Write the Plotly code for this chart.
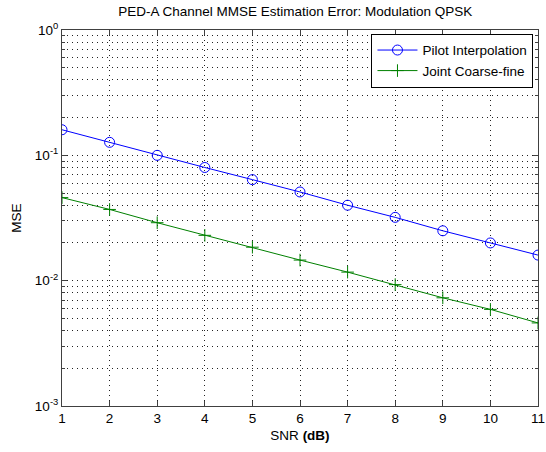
import plotly.graph_objects as go

# SNR points (dB)
snr_db = [1, 2, 3, 4, 5, 6, 7, 8, 9, 10, 11]

# Mean squared error of the channel estimate for each scheme
mse_pilot_interp = [0.160, 0.127, 0.100, 0.080, 0.064, 0.051, 0.040, 0.032, 0.025, 0.020, 0.016]
mse_joint_coarse_fine = [0.046, 0.037, 0.029, 0.023, 0.0185, 0.0146, 0.0117, 0.0093, 0.0073, 0.0059, 0.0046]

y_tick_vals = [1e-3, 1e-2, 1e-1, 1]
y_tick_text = ["10<sup>-3</sup>", "10<sup>-2</sup>", "10<sup>-1</sup>", "10<sup>0</sup>"]

font_family = "Liberation Sans, Arial, sans-serif"
text_size = 13.5

fig = go.Figure()

fig.add_trace(go.Scatter(
    x=snr_db, y=mse_pilot_interp, name="Pilot Interpolation",
    mode="lines+markers",
    line=dict(color="#0000ff", width=1),
    marker=dict(symbol="circle-open", size=10, color="#0000ff", line=dict(width=1)),
))

fig.add_trace(go.Scatter(
    x=snr_db, y=mse_joint_coarse_fine, name="Joint Coarse-fine",
    mode="lines+markers",
    line=dict(color="#008000", width=1),
    marker=dict(symbol="cross-thin-open", size=9, color="#008000", line=dict(width=1, color="#008000")),
))

grid_dash = "1px,4px"

axis_common = dict(
    showline=True, linecolor="#404040", linewidth=1, mirror="allticks",
    ticks="inside", ticklen=5, tickcolor="#404040",
    showgrid=True, gridcolor="#222222", griddash=grid_dash, gridwidth=1,
    zeroline=False, automargin=False, ticklabeloverflow="allow",
    tickfont=dict(family=font_family, size=text_size, color="#000000"),
)

fig.update_xaxes(
    **axis_common,
    range=[1, 11], tickvals=snr_db,
    title=dict(text="SNR <b>(dB)</b>", font=dict(family=font_family, size=text_size, color="#000000"), standoff=5),
)

fig.update_yaxes(
    **axis_common,
    type="log", range=[-3, 0],
    tickvals=y_tick_vals, ticktext=y_tick_text,
    minor=dict(dtick="D1", ticks="inside", ticklen=3, tickcolor="#404040",
               showgrid=True, gridcolor="#222222", griddash=grid_dash, gridwidth=1),
    title=dict(text="MSE", font=dict(family=font_family, size=text_size, color="#000000"), standoff=10),
)

fig.update_layout(
    width=546, height=452,
    margin=dict(l=62, r=8, t=30, b=46),
    paper_bgcolor="#ffffff", plot_bgcolor="#ffffff",
    font=dict(family=font_family, size=text_size, color="#000000"),
    title=dict(text="PED-A Channel MMSE Estimation Error: Modulation QPSK",
               x=0.49, xref="paper", xanchor="center",
               y=0.975, yref="container", yanchor="middle",
               font=dict(family=font_family, size=text_size, color="#000000")),
    showlegend=True,
    legend=dict(x=0.9905, y=0.99, xanchor="right", yanchor="top",
                bgcolor="#ffffff", bordercolor="#000000", borderwidth=1,
                font=dict(family=font_family, size=text_size, color="#000000"),
                itemwidth=40, tracegroupgap=0),
)

fig.write_html("out.html")
